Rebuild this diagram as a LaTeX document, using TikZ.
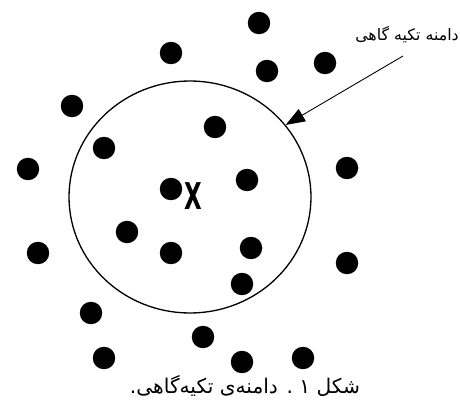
\documentclass[tikz,border=0pt]{standalone}
\usepackage{fontspec}
\usetikzlibrary{arrows.meta,shapes.geometric}
\TeXXeTstate=1
\newfontfamily\farsifont[Script=Arabic]{DejaVu Sans}
\newfontfamily\markfont{DejaVu Sans}

\begin{document}
\begin{tikzpicture}[x=0.02cm, y=-0.02cm,
  pt/.style={circle, fill=black, inner sep=0pt, minimum size=0.45cm},
  suppdom/.style={draw, ellipse, line width=0.75pt, minimum width=4.84cm, minimum height=4.64cm, inner sep=0pt},
  lbl/.style={font=\farsifont\fontsize{9}{10}\selectfont, inner sep=1pt}]
\useasboundingbox (0,0) rectangle (460,412);

% support domain and the point x
\node[suppdom] (dom) at (190,197) {};
\node[transform shape, xscale=0.62, font=\markfont\bfseries\fontsize{21}{21}\selectfont, inner sep=0pt] (xpt) at (193,196) {X};

% nodes of the scattered cloud
\foreach \px/\py [count=\i] in {259/23, 171/53, 267/71, 325/63, 72/106, 215/127, 104/148, 28/169,
    347/168, 171/189, 247/180, 127/232, 171/253, 251/248, 38/253, 347/263, 242/284,
    91/313, 203/337, 104/358, 242/362, 303/358}
  \node[pt] (d\i) at (\px,\py) {};

% label and arrow
\node[lbl] (name) at (407,35) {\beginR دامنه تکیه گاهی\endR};
\coordinate (from) at (403,56);
\draw[line width=0.5pt, -{Triangle[length=11pt, width=8pt]}] (from) -- (dom.37);

% caption
\node[font=\farsifont\fontsize{11.5}{13}\selectfont, inner sep=0pt] (cap) at (245,386)
  {\beginR شکل ۱ . دامنه^^^^200cی تکیه^^^^200cگاهی.\endR};
\end{tikzpicture}
\end{document}
